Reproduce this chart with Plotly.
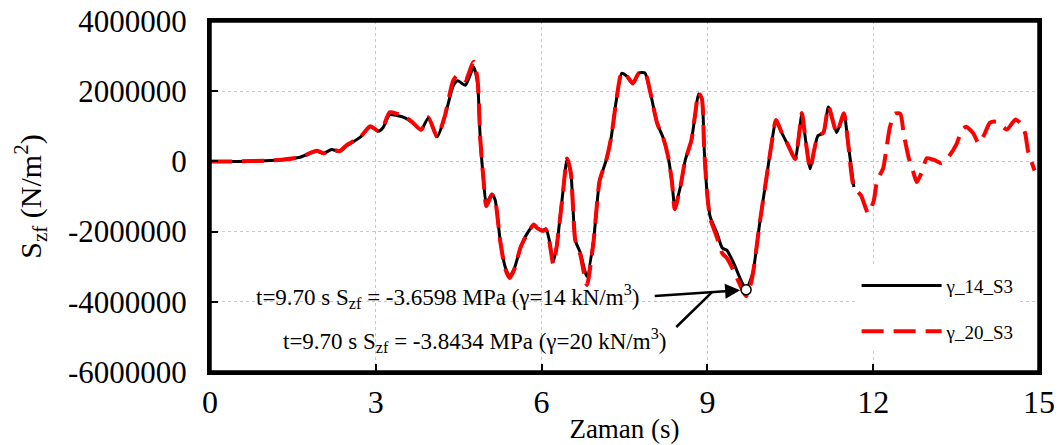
import plotly.graph_objects as go

# time (s)
t = [0.0, 0.5, 1.0, 1.3, 1.63, 1.93, 2.06, 2.2, 2.34, 2.48, 2.72, 2.9, 3.05, 3.13, 3.25, 3.38,
     3.52, 3.66, 3.82, 3.95, 4.11, 4.25, 4.4, 4.48, 4.62, 4.77, 4.84, 4.89, 4.95, 5.0, 5.1,
     5.16, 5.25, 5.34, 5.42, 5.5, 5.62, 5.74, 5.86, 5.92, 6.03, 6.08, 6.14, 6.21, 6.27, 6.39,
     6.46, 6.53, 6.61, 6.7, 6.82, 6.94, 7.05, 7.17, 7.26, 7.35, 7.45, 7.54, 7.65, 7.76, 7.87,
     7.96, 8.09, 8.2, 8.29, 8.36, 8.41, 8.51, 8.6, 8.71, 8.78, 8.84, 8.9, 8.94, 8.99, 9.05,
     9.17, 9.27, 9.35, 9.47, 9.6, 9.7, 9.78, 9.83, 9.95, 10.07, 10.17, 10.24, 10.35, 10.46,
     10.59, 10.65, 10.71, 10.77, 10.86, 10.93, 11.0, 11.1, 11.19, 11.34, 11.47, 11.54, 11.65,
     11.78, 11.91, 12.01, 12.07, 12.18, 12.24, 12.3, 12.39, 12.49, 12.55, 12.64, 12.73, 12.79,
     12.89, 12.97, 13.12, 13.24, 13.38, 13.51, 13.6, 13.68, 13.81, 13.91, 14.02, 14.11, 14.23,
     14.42, 14.57, 14.66, 14.75, 14.8, 14.92]

# S_zf in MPa (x 1e6 N/m2)
s14 = [0, 0, 0.02, 0.05, 0.12, 0.29, 0.23, 0.34, 0.28, 0.45, 0.69, 0.99, 0.86, 0.96, 1.33, 1.31,
       1.25, 1.11, 0.90, 1.24, 0.70, 1.28, 2.15, 2.30, 2.17, 2.68, 2.25, 0.65, -0.55, -1.2, -0.93,
       -1.10, -2.24, -3.0, -3.27, -3.08, -2.45, -2.05, -1.82, -1.90, -1.96, -1.92, -2.25, -2.86, -2.44, -0.82,
       0.05, -0.34, -2.25, -2.6, -3.28, -2.25, -0.55, 0.04, 0.69, 1.72, 2.51, 2.43, 2.22, 2.52, 2.52,
       2.02, 1.09, 0.67, 0.13, -0.6, -1.3, -0.73, 0.04, 0.6, 1.35, 1.92, 1.78, 0.42, -0.82, -1.57,
       -2.03, -2.47, -2.53, -2.88, -3.36, -3.6598, -3.38, -3.12, -1.72, -0.45, 0.6, 1.16, 0.8, 0.46,
       0.07, 0.66, 1.36, 0.69, -0.21, 0.31, 0.73, 0.82, 1.55, 0.82, 1.36, 0.6, -0.73]

s20 = [0, 0, 0.02, 0.05, 0.12, 0.30, 0.23, 0.35, 0.29, 0.47, 0.70, 1.0, 0.86, 0.97, 1.40, 1.36,
       1.28, 1.12, 0.90, 1.26, 0.70, 1.30, 2.30, 2.45, 2.31, 2.84, 2.35, 0.65, -0.55, -1.28, -0.95,
       -1.12, -2.26, -3.05, -3.32, -3.10, -2.45, -2.06, -1.80, -1.90, -1.98, -1.95, -2.28, -2.92, -2.46, -0.84,
       0.08, -0.34, -2.25, -2.65, -3.52, -2.28, -0.55, 0.04, 0.69, 1.72, 2.53, 2.44, 2.22, 2.52, 2.53,
       2.02, 1.09, 0.67, 0.13, -0.6, -1.36, -0.73, 0.04, 0.6, 1.36, 1.95, 1.78, 0.42, -0.82, -1.62,
       -2.15, -2.62, -2.75, -3.10, -3.55, -3.8434, -3.52, -3.14, -1.72, -0.45, 0.6, 1.18, 0.8, 0.46,
       0.07, 0.66, 1.38, 0.69, -0.22, 0.31, 0.73, 0.82, 1.57, 0.82, 1.37, 0.6, -0.73,
       -0.97, -1.48, -1.12, -0.55, -0.2, 0.37, 0.96, 1.36, 1.36, 0.8, 0.12, -0.33, -0.59,
       -0.26, 0.09, 0.03, -0.05, 0.17, 0.5, 0.88, 0.99, 0.8, 0.51, 0.8, 1.1, 1.13,
       0.91, 1.19, 1.1, 0.8, 0.31, -0.26]

peak_t = 9.70
peak_s14 = -3.6598

x_ticks = [0, 3, 6, 9, 12, 15]
y_ticks = [-6000000, -4000000, -2000000, 0, 2000000, 4000000]
y_ticktext = ["-6000000", "-4000000", "-2000000", "0", "2000000", "4000000"]

FONT = "Liberation Serif"
M = 1e6

fig = go.Figure()
fig.add_trace(go.Scatter(
    x=t[:len(s14)], y=[v * M for v in s14], mode="lines", name="γ_14_S3",
    line=dict(color="black", width=3, shape="spline", smoothing=0.6),
    legendgroup="a"))
fig.add_trace(go.Scatter(
    x=t, y=[v * M for v in s20], mode="lines", name="γ_20_S3",
    line=dict(color="#ff0000", width=4, dash="22px,10px", shape="spline", smoothing=0.6),
    legendgroup="b"))
fig.add_trace(go.Scatter(
    x=[peak_t], y=[peak_s14 * M], mode="markers", showlegend=False,
    marker=dict(symbol="circle", size=10, color="white", line=dict(color="black", width=1.5))))

ann_font = dict(family=FONT, size=23, color="black")
fig.add_annotation(x=7.8, y=-3.85 * M, xref="x", yref="y", xanchor="right", yanchor="middle",
                   showarrow=False, font=ann_font,
                   text="t=9.70 s S<sub>zf</sub> = -3.6598 MPa (γ=14 kN/m<sup>3</sup>)")
fig.add_annotation(x=8.28, y=-5.1 * M, xref="x", yref="y", xanchor="right", yanchor="middle",
                   showarrow=False, font=ann_font,
                   text="t=9.70 s S<sub>zf</sub> = -3.8434 MPa (γ=20 kN/m<sup>3</sup>)")
fig.add_annotation(x=peak_t, y=peak_s14 * M, ax=8.02, ay=-3.84 * M, xref="x", yref="y",
                   axref="x", ayref="y", text="", showarrow=True, arrowhead=2, arrowsize=1.2,
                   arrowwidth=2.5, arrowcolor="black", standoff=6)
fig.add_annotation(x=9.08, y=-3.73 * M, ax=8.41, ay=-4.76 * M, xref="x", yref="y",
                   axref="x", ayref="y", text="", showarrow=True, arrowhead=0,
                   arrowwidth=2.5, arrowcolor="black")

# thick frame around the plot area
fig.add_shape(type="rect", xref="paper", yref="paper", x0=0, y0=0, x1=1, y1=1,
              line=dict(color="black", width=3.5), layer="above")

axis_common = dict(showline=True, linecolor="black", linewidth=3, mirror=True,
                   showgrid=True, gridcolor="#c8c8c8", griddash="dot", gridwidth=1,
                   zeroline=False, ticks="inside", ticklen=8, tickwidth=1.5, tickcolor="black",
                   automargin=False)

fig.update_xaxes(range=[0, 15], tickvals=x_ticks, **axis_common,
                 tickfont=dict(family=FONT, size=32, color="black"),
                 title=dict(text="Zaman (s)", font=dict(family=FONT, size=27, color="black"), standoff=0))
fig.update_yaxes(range=[-6000000, 4000000], tickvals=y_ticks, ticktext=y_ticktext, **axis_common,
                 tickfont=dict(family=FONT, size=31, color="black"), ticklabelstandoff=14,
                 title=dict(text="S<sub>zf</sub> (N/m<sup>2</sup>)",
                            font=dict(family=FONT, size=30, color="black"), standoff=18))

fig.update_layout(
    width=1060, height=445,
    margin=dict(l=210, r=21, t=21, b=73),
    plot_bgcolor="white", paper_bgcolor="white",
    legend=dict(x=0.78, y=0.30, xanchor="left", yanchor="top", bgcolor="white",
                font=dict(family=FONT, size=19, color="black"), tracegroupgap=18,
                itemwidth=80),
)

fig.write_html("out.html", config={"displayModeBar": False},
               post_script="document.body.style.margin='0';document.body.style.overflow='hidden';")
